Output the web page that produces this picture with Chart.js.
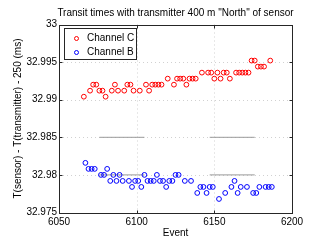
<!DOCTYPE html>
<html>
<head>
<meta charset="utf-8">
<script src="https://cdn.jsdelivr.net/npm/chart.js@4"></script>
<style>
html, body { margin: 0; padding: 0; background: #fff; }
</style>
</head>
<body>
<canvas id="chart" width="322" height="242"></canvas>
<script>
const chartTitle = 'Transit times with transmitter 400 m "North" of sensor';
const xLabel = 'Event';
const yLabel = 'T(sensor) - T(transmitter) - 250 (ms)';
const seriesNames = ['Channel C', 'Channel B'];

const eventsC = [6066, 6070, 6072, 6074, 6076, 6078, 6080, 6084, 6086, 6088,
    6092, 6094, 6096, 6098, 6102, 6106, 6108, 6110, 6112, 6114,
    6116, 6120, 6124, 6126, 6128, 6130, 6132, 6134, 6136, 6138,
    6142, 6146, 6148, 6150, 6152, 6154, 6156, 6158, 6160, 6164,
    6166, 6168, 6170, 6172, 6174, 6176, 6178, 6180, 6182, 6186];
const valuesC = [32.9904, 32.9912, 32.9920, 32.9920, 32.9912, 32.9912, 32.9904, 32.9912, 32.9920, 32.9912,
    32.9912, 32.9920, 32.9920, 32.9912, 32.9912, 32.9920, 32.9912, 32.9920, 32.9920, 32.9920,
    32.9920, 32.9928, 32.9920, 32.9928, 32.9928, 32.9928, 32.9920, 32.9928, 32.9928, 32.9928,
    32.9936, 32.9936, 32.9936, 32.9928, 32.9936, 32.9928, 32.9936, 32.9936, 32.9928, 32.9936,
    32.9936, 32.9936, 32.9936, 32.9936, 32.9952, 32.9952, 32.9944, 32.9944, 32.9944, 32.9952];

const eventsB = [6067, 6069, 6071, 6073, 6077, 6079, 6081, 6083, 6085, 6087,
    6089, 6091, 6095, 6097, 6099, 6101, 6103, 6105, 6107, 6109,
    6111, 6113, 6115, 6117, 6119, 6121, 6123, 6125, 6127, 6131,
    6135, 6139, 6141, 6143, 6145, 6147, 6149, 6153, 6157, 6161,
    6163, 6165, 6167, 6171, 6175, 6177, 6179, 6183, 6185, 6187];
const valuesB = [32.9816, 32.9808, 32.9808, 32.9808, 32.9800, 32.9800, 32.9808, 32.9792, 32.9800, 32.9792,
    32.9800, 32.9792, 32.9792, 32.9784, 32.9792, 32.9792, 32.9784, 32.9800, 32.9792, 32.9792,
    32.9792, 32.9800, 32.9792, 32.9792, 32.9784, 32.9792, 32.9792, 32.9800, 32.9800, 32.9792,
    32.9792, 32.9776, 32.9784, 32.9784, 32.9776, 32.9784, 32.9784, 32.9768, 32.9776, 32.9784,
    32.9792, 32.9776, 32.9784, 32.9784, 32.9776, 32.9776, 32.9784, 32.9784, 32.9784, 32.9784];

const xTicks = [6050, 6100, 6150, 6200];
const yTicks = [32.975, 32.98, 32.985, 32.99, 32.995, 33];

// grey horizontal strokes seen on two of the grid levels
const guideLevels = [32.985, 32.98];
const guideSpans = [[6076, 6105], [6147, 6176]];

const FONT = '"Liberation Sans", Arial, Helvetica, sans-serif';
const colors = ['#ff0000', '#0000ff'];

const toPoints = (xs, ys) => xs.map((x, i) => ({x, y: ys[i]}));

const datasets = [
    {
        label: seriesNames[0],
        data: toPoints(eventsC, valuesC),
        showLine: false,
        pointStyle: 'circle',
        pointRadius: 2.4,
        pointBorderWidth: 1,
        pointBorderColor: colors[0],
        pointBackgroundColor: 'rgba(0,0,0,0)',
        order: 1,
    },
    {
        label: seriesNames[1],
        data: toPoints(eventsB, valuesB),
        showLine: false,
        pointStyle: 'circle',
        pointRadius: 2.4,
        pointBorderWidth: 1,
        pointBorderColor: colors[1],
        pointBackgroundColor: 'rgba(0,0,0,0)',
        order: 1,
    },
];

guideLevels.forEach(level => {
    guideSpans.forEach(span => {
        datasets.push({
            label: '',
            data: span.map(x => ({x, y: level})),
            showLine: true,
            borderColor: '#9a9a9a',
            borderWidth: 1,
            pointRadius: 0,
            order: 2,
        });
    });
});

const framePlugin = {
    id: 'frame',
    beforeDatasetsDraw(chart) {
        const {ctx, chartArea: a, scales: {x, y}} = chart;
        ctx.save();
        ctx.strokeStyle = 'rgba(0,0,0,0.18)';
        ctx.lineWidth = 1;
        ctx.setLineDash([1, 3]);
        xTicks.slice(1, -1).forEach(v => {
            const px = Math.round(x.getPixelForValue(v)) + 0.5;
            ctx.beginPath(); ctx.moveTo(px, a.top); ctx.lineTo(px, a.bottom); ctx.stroke();
        });
        yTicks.slice(1, -1).forEach(v => {
            const py = Math.round(y.getPixelForValue(v)) + 0.5;
            ctx.beginPath(); ctx.moveTo(a.left, py); ctx.lineTo(a.right, py); ctx.stroke();
        });
        ctx.restore();
    },
    afterDraw(chart) {
        const {ctx, chartArea: a, scales: {x, y}} = chart;
        const L = Math.round(a.left) + 0.5, R = Math.round(a.right) + 0.5;
        const T = Math.round(a.top) + 0.5, B = Math.round(a.bottom) + 0.5;
        ctx.save();
        ctx.strokeStyle = '#262626';
        ctx.lineWidth = 1;
        ctx.strokeRect(L, T, R - L, B - T);
        const tl = 3;
        ctx.beginPath();
        xTicks.forEach(v => {
            const px = Math.round(x.getPixelForValue(v)) + 0.5;
            ctx.moveTo(px, B); ctx.lineTo(px, B - tl);
            ctx.moveTo(px, T); ctx.lineTo(px, T + tl);
        });
        yTicks.forEach(v => {
            const py = Math.round(y.getPixelForValue(v)) + 0.5;
            ctx.moveTo(L, py); ctx.lineTo(L + tl, py);
            ctx.moveTo(R, py); ctx.lineTo(R - tl, py);
        });
        ctx.stroke();

        // title
        ctx.fillStyle = '#000';
        ctx.font = '10px ' + FONT;
        ctx.textAlign = 'center';
        ctx.textBaseline = 'middle';
        ctx.fillText(chartTitle, (a.left + a.right) / 2, 13);

        // legend box inside the axes
        const bx = 64.5, by = 28.5, bw = 72, bh = 31;
        ctx.fillStyle = '#fff';
        ctx.fillRect(bx, by, bw, bh);
        ctx.strokeStyle = '#262626';
        ctx.strokeRect(bx, by, bw, bh);
        seriesNames.forEach((name, i) => {
            const cy = 38.5 + i * 14;
            ctx.beginPath();
            ctx.strokeStyle = colors[i];
            ctx.arc(76.5, cy, 2, 0, Math.PI * 2);
            ctx.stroke();
            ctx.fillStyle = '#000';
            ctx.textAlign = 'left';
            ctx.fillText(name, 87, cy);
        });
        ctx.restore();
    }
};

const config = {
    type: 'scatter',
    data: {datasets},
    options: {
        responsive: false,
        animation: false,
        devicePixelRatio: 1,
        layout: {padding: {top: 24.5, right: 30, left: 0, bottom: 0}},
        plugins: {
            legend: {display: false},
            title: {display: false},
            tooltip: {enabled: false},
        },
        scales: {
            x: {
                type: 'linear',
                min: 6050,
                max: 6200,
                afterBuildTicks: s => { s.ticks = xTicks.map(value => ({value})); },
                afterFit: s => { s.height = 29.5; },
                grid: {display: false, drawTicks: false},
                border: {display: false},
                ticks: {
                    padding: 4,
                    color: '#000',
                    font: {family: FONT, size: 10},
                    maxRotation: 0,
                    callback: v => String(v),
                },
                title: {
                    display: true,
                    text: xLabel,
                    color: '#000',
                    font: {family: FONT, size: 10},
                    padding: {top: 0, bottom: 2.5},
                },
            },
            y: {
                type: 'linear',
                min: 32.975,
                max: 33,
                afterBuildTicks: s => { s.ticks = yTicks.map(value => ({value})); },
                afterFit: s => { s.width = 59; },
                grid: {display: false, drawTicks: false},
                border: {display: false},
                ticks: {
                    padding: 2,
                    color: '#000',
                    font: {family: FONT, size: 10},
                    callback: v => String(+v.toFixed(3)),
                },
                title: {
                    display: true,
                    text: yLabel,
                    color: '#000',
                    font: {family: FONT, size: 10},
                    padding: {top: 12, bottom: 0},
                },
            },
        },
    },
    plugins: [framePlugin],
};

window.addEventListener('DOMContentLoaded', () => {
    new Chart(document.getElementById('chart'), config);
});
</script>
</body>
</html>
